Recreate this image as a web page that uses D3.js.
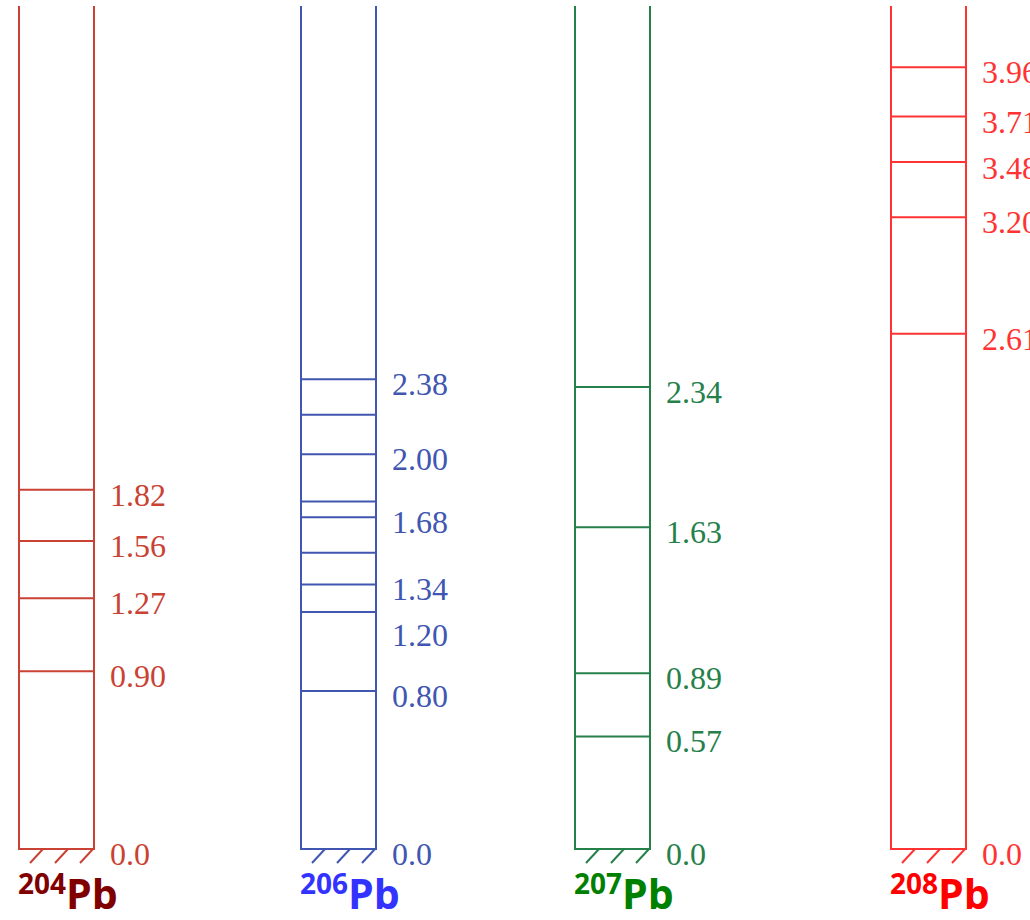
<!DOCTYPE html>
<html>
<head>
<meta charset="utf-8">
<script src="https://cdn.jsdelivr.net/npm/d3@7"></script>
<style>
  body { margin: 0; background: #fff; }
  .lvl { font-family: "Liberation Serif", "DejaVu Serif", serif; font-size: 32px; }
  .iso { font-family: "Open Sans", "Noto Sans", sans-serif; font-weight: bold; }
</style>
</head>
<body>
<script>
// isotopes, one column each
var isotopes = ["204", "206", "207", "208"];
var lineColors = ["#c94234", "#4056b0", "#26804a", "#ff3333"];
var nameColors = ["#800000", "#3333ff", "#008000", "#ff0000"];

// level energies (MeV) drawn as lines
var levels204 = [0.90, 1.27, 1.56, 1.82];
var levels206 = [0.80, 1.20, 1.34, 1.50, 1.68, 1.76, 2.00, 2.20, 2.38];
var levels207 = [0.57, 0.89, 1.63, 2.34];
var levels208 = [2.61, 3.20, 3.48, 3.71, 3.96];

// labelled levels
var labels204 = ["0.0", "0.90", "1.27", "1.56", "1.82"];
var labels206 = ["0.0", "0.80", "1.20", "1.34", "1.68", "2.00", "2.38"];
var labels207 = ["0.0", "0.57", "0.89", "1.63", "2.34"];
var labels208 = ["0.0", "2.61", "3.20", "3.48", "3.71", "3.96"];

var allLevels = [levels204, levels206, levels207, levels208];
var allLabels = [labels204, labels206, labels207, labels208];

var width = 1030,
    height = 920,
    colW = 75,
    eMax = 4.27,
    minGap = 46;

var svg = d3.select("body").append("svg")
    .attr("width", width)
    .attr("height", height);

var x = d3.scaleOrdinal()
    .domain(isotopes)
    .range([19, 301, 575, 891]);

var y = d3.scaleLinear()
    .domain([0, eMax])
    .range([849, 6]);

// push labels down so they don't collide (top to bottom)
function labelPos(labels) {
  var pos = labels.map(function(d) { return { t: d, y: y(+d) + 5 }; })
      .sort(function(a, b) { return a.y - b.y; });
  for (var i = 1; i < pos.length; i++) {
    if (pos[i].y - pos[i - 1].y < minGap) pos[i].y = pos[i - 1].y + minGap;
  }
  return pos;
}

isotopes.forEach(function(iso, k) {
  var x0 = x(iso),
      col = lineColors[k];

  var g = svg.append("g")
      .attr("stroke", col)
      .attr("stroke-width", 2)
      .attr("fill", "none");

  // box: two sides + ground
  g.append("path")
      .attr("d", "M" + x0 + "," + y(eMax) + "V" + y(0) + "H" + (x0 + colW) + "V" + y(eMax));

  // hatching under the ground state
  g.selectAll("line.hatch")
      .data([1, 2, 3])
    .enter().append("line")
      .attr("class", "hatch")
      .attr("x1", function(d) { return x0 + colW * d / 3 - 1; })
      .attr("y1", y(0))
      .attr("x2", function(d) { return x0 + colW * d / 3 - 14; })
      .attr("y2", y(0) + 14);

  // excited levels
  g.selectAll("line.level")
      .data(allLevels[k])
    .enter().append("line")
      .attr("class", "level")
      .attr("x1", x0)
      .attr("x2", x0 + colW)
      .attr("y1", function(d) { return y(d); })
      .attr("y2", function(d) { return y(d); });

  // energy labels
  svg.selectAll("text.l" + iso)
      .data(labelPos(allLabels[k]))
    .enter().append("text")
      .attr("class", "lvl l" + iso)
      .attr("x", x0 + colW + 16)
      .attr("y", function(d) { return d.y; })
      .attr("dominant-baseline", "central")
      .attr("fill", col)
      .text(function(d) { return d.t; });

  // isotope name
  var t = svg.append("text")
      .attr("class", "iso")
      .attr("x", x0 - 1)
      .attr("y", 909)
      .attr("fill", nameColors[k]);
  t.append("tspan")
      .attr("font-size", 28)
      .attr("dy", -15)
      .text(iso);
  t.append("tspan")
      .attr("font-size", 41)
      .attr("dy", 15)
      .text("Pb");
});
</script>
</body>
</html>
